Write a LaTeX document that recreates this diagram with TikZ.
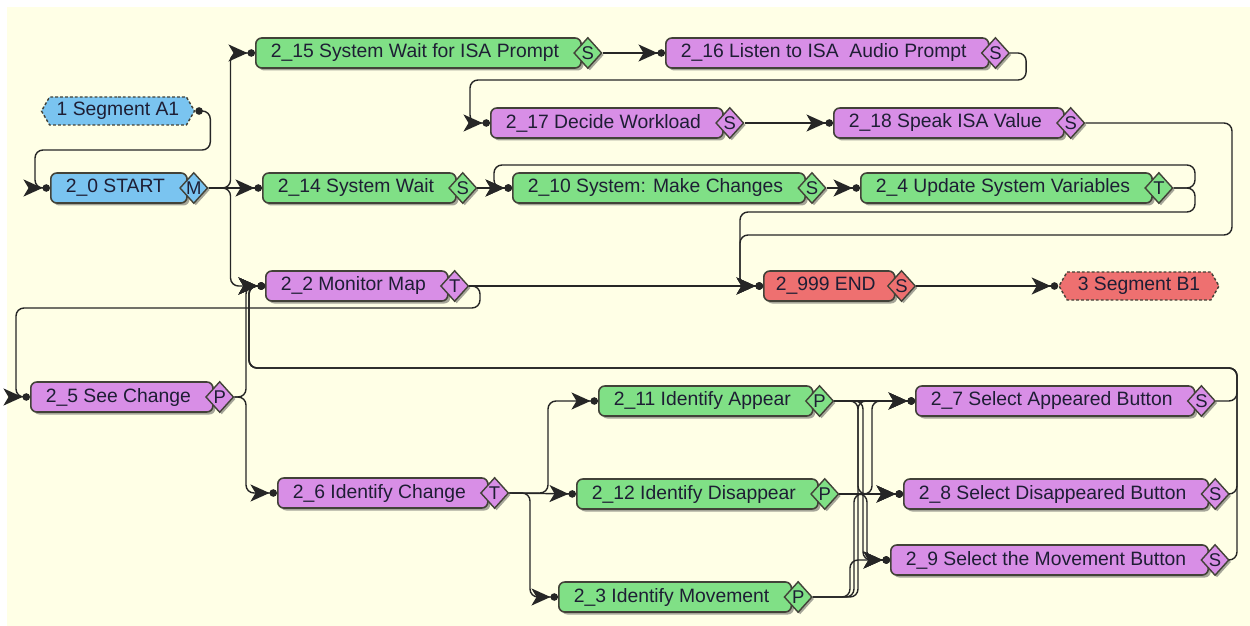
\documentclass[tikz,border=0pt]{standalone}
\usepackage{fontspec}
\setmainfont{Liberation Sans}
\usetikzlibrary{shapes.geometric, shapes.symbols, arrows.meta, shadows}

\definecolor{cream}{RGB}{255,255,230}
\definecolor{boxgreen}{RGB}{128,224,134}
\definecolor{boxpurple}{RGB}{216,142,230}
\definecolor{boxblue}{RGB}{122,196,240}
\definecolor{boxred}{RGB}{238,112,112}
\definecolor{edge}{RGB}{66,66,56}
\definecolor{txt}{RGB}{30,30,52}

\begin{document}
\begin{tikzpicture}[x=0.2mm, y=-0.2mm, font=\fontsize{11}{13}\selectfont,
    task/.style={draw=edge, fill=#1, line width=0.9pt, rounded corners=1.2mm, minimum height=6mm,
        inner xsep=3mm, inner ysep=0pt, anchor=west, text=txt,
        drop shadow={shadow xshift=0.5mm, shadow yshift=-0.5mm, fill=black!70},
        execute at end node={\hspace*{1.4mm}}},
    tag/.style={draw=edge, fill=#1, line width=0.8pt, shape=diamond, minimum width=5.6mm,
        minimum height=6.2mm, inner sep=0pt, text=txt, font=\fontsize{10.5}{12}\selectfont,
        drop shadow={shadow xshift=0.4mm, shadow yshift=-0.4mm, fill=black!70}},
    segment/.style={draw=edge, fill=#1, line width=0.8pt, dash pattern=on 1.6pt off 1.2pt,
        shape=signal, signal to=west and east, signal pointer angle=120,
        minimum height=5.6mm, inner xsep=1mm, inner ysep=0pt, text=txt},
    link/.style={draw=black!85, line width=0.8pt, rounded corners=1.6mm,
        -{Stealth[length=3.8mm, width=3.4mm, inset=1mm] Circle[length=1.5mm]}},
    linkdot/.style={link, {Circle[length=1.5mm]}-{Stealth[length=3.8mm, width=3.4mm, inset=1mm] Circle[length=1.5mm]}}]

    \useasboundingbox (0,0) rectangle (1250,626);
    \fill[white] (0,0) rectangle (1250,626);
    \fill[cream] (7,7) rectangle (1250,626);

    % Entry
    \node[segment=boxblue, minimum width=30.6mm] (seg_a1) at (118,111) {1 Segment A1};
    \node[task=boxblue] (start) at (50,188) {2\_0 START};
    \node[tag=boxblue] (start_m) at ([xshift=1.2mm]start.east) {M};

    % ISA prompt
    \node[task=boxgreen] (wait15) at (255,53) {2\_15 System Wait for ISA Prompt};
    \node[tag=boxgreen] (wait15_s) at ([xshift=1.2mm]wait15.east) {S};
    \node[task=boxpurple] (listen16) at (665,53) {2\_16 Listen to ISA\ \ Audio Prompt};
    \node[tag=boxpurple] (listen16_s) at ([xshift=1.2mm]listen16.east) {S};
    \node[task=boxpurple] (decide17) at (490,123) {2\_17 Decide Workload};
    \node[tag=boxpurple] (decide17_s) at ([xshift=1.2mm]decide17.east) {S};
    \node[task=boxpurple] (speak18) at (833,123) {2\_18 Speak ISA Value};
    \node[tag=boxpurple] (speak18_s) at ([xshift=1.2mm]speak18.east) {S};

    % System changes
    \node[task=boxgreen] (wait14) at (262,188) {2\_14 System Wait};
    \node[tag=boxgreen] (wait14_s) at ([xshift=1.2mm]wait14.east) {S};
    \node[task=boxgreen] (change10) at (512,188) {2\_10 System: Make Changes};
    \node[tag=boxgreen] (change10_s) at ([xshift=1.2mm]change10.east) {S};
    \node[task=boxgreen] (update4) at (860,188) {2\_4 Update System Variables};
    \node[tag=boxgreen] (update4_t) at ([xshift=1.2mm]update4.east) {T};

    % Monitoring
    \node[task=boxpurple] (monitor2) at (265,286) {2\_2 Monitor Map};
    \node[tag=boxpurple] (monitor2_t) at ([xshift=1.2mm]monitor2.east) {T};
    \node[task=boxred, inner xsep=2.4mm] (end999) at (763,286) {2\_999 END};
    \node[tag=boxred] (end999_s) at ([xshift=1.2mm]end999.east) {S};
    \node[segment=boxred, minimum width=32mm] (seg_b1) at (1139,286) {3 Segment B1};

    \node[task=boxpurple] (see5) at (30,397) {2\_5 See Change};
    \node[tag=boxpurple] (see5_p) at ([xshift=1.2mm]see5.east) {P};
    \node[task=boxpurple] (ident6) at (277,493) {2\_6 Identify Change};
    \node[tag=boxpurple] (ident6_t) at ([xshift=1.2mm]ident6.east) {T};

    \node[task=boxgreen] (appear11) at (598,401) {2\_11 Identify Appear};
    \node[tag=boxgreen] (appear11_p) at ([xshift=1.2mm]appear11.east) {P};
    \node[task=boxgreen] (disap12) at (576,494) {2\_12 Identify Disappear};
    \node[tag=boxgreen] (disap12_p) at ([xshift=1.2mm]disap12.east) {P};
    \node[task=boxgreen] (move3) at (558,597) {2\_3 Identify Movement};
    \node[tag=boxgreen] (move3_p) at ([xshift=1.2mm]move3.east) {P};

    \node[task=boxpurple] (sel7) at (915,401) {2\_7 Select Appeared Button};
    \node[tag=boxpurple] (sel7_s) at ([xshift=1.2mm]sel7.east) {S};
    \node[task=boxpurple] (sel8) at (903,494) {2\_8 Select Disappeared Button};
    \node[tag=boxpurple] (sel8_s) at ([xshift=1.2mm]sel8.east) {S};
    \node[task=boxpurple] (sel9) at (890,560) {2\_9 Select the Movement Button};
    \node[tag=boxpurple] (sel9_s) at ([xshift=1.2mm]sel9.east) {S};

    % Connections
    \draw[linkdot] (seg_a1.east) -- ++(15,0) |- (35,150) |- (start.west);
    \draw[link] (start_m.east) -- (wait14.west);
    \draw[link] (start_m.east) -- ++(22,0) |- (wait15.west);
    \draw[link] (start_m.east) -- ++(22,0) |- (monitor2.west);

    \draw[link] (wait15_s.east) -- (listen16.west);
    \draw[link] (listen16_s.east) -- ++(16,0) |- (470,80) |- (decide17.west);
    \draw[link] (decide17_s.east) -- (speak18.west);
    \draw[link] (speak18_s.east) -- (1232,123) |- (740,235) |- (end999.west);

    \draw[link] (wait14_s.east) -- (change10.west);
    \draw[link] (change10_s.east) -- (update4.west);
    \draw[link] (update4_t.east) -- (1195,188) |- (494,165) |- (change10.west);
    \draw[link] (update4_t.east) -- (1195,188) |- (740,212) |- (end999.west);

    \draw[link] (monitor2_t.east) -- (end999.west);
    \draw[link] (monitor2_t.east) -- (480,286) |- (16,308) |- (see5.west);
    \draw[link] (end999_s.east) -- (seg_b1.west);

    \draw[link] (see5_p.east) -- (246,397) |- (ident6.west);
    \draw[link] (see5_p.east) -- (246,397) |- (monitor2.west);
    \draw[link] (ident6_t.east) -- (548,493) |- (appear11.west);
    \draw[link] (ident6_t.east) -- (disap12.west);
    \draw[link] (ident6_t.east) -- (530,493) |- (move3.west);

    \draw[link] (appear11_p.east) -- (sel7.west);
    \draw[link] (appear11_p.east) -- (858,401) |- (sel8.west);
    \draw[link] (appear11_p.east) -- (863,401) |- (sel9.west);
    \draw[link] (disap12_p.east) -- (sel8.west);
    \draw[link] (disap12_p.east) -- (872,494) |- (sel7.west);
    \draw[link] (disap12_p.east) -- (867,494) |- (sel9.west);
    \draw[link] (move3_p.east) -- (850,597) |- (sel9.west);
    \draw[link] (move3_p.east) -- (854,597) |- (sel8.west);
    \draw[link] (move3_p.east) -- (858,597) |- (sel7.west);

    \draw[link] (sel7_s.east) -- (1237,401) |- (249,368) |- (monitor2.west);
    \draw[link] (sel8_s.east) -- (1237,494) |- (249,368) |- (monitor2.west);
    \draw[link] (sel9_s.east) -- (1237,560) |- (249,368) |- (monitor2.west);
\end{tikzpicture}
\end{document}
